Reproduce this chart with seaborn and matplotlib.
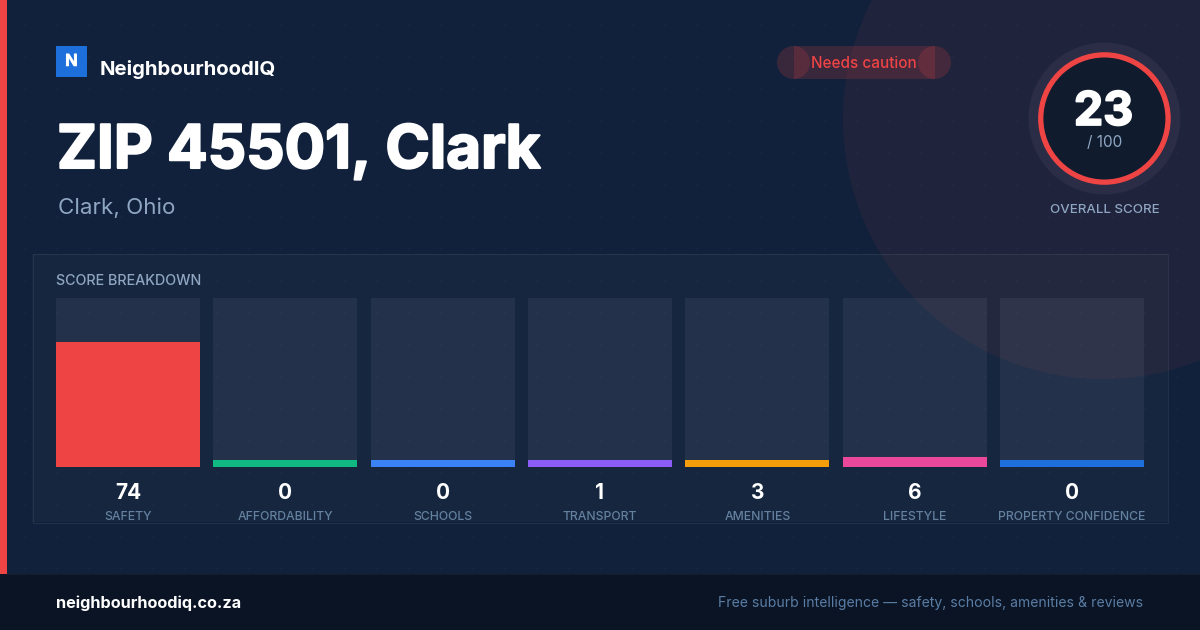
import numpy as np
import pandas as pd
import matplotlib
matplotlib.use("Agg")
import matplotlib.pyplot as plt
import matplotlib.patheffects as pe
from matplotlib.patches import Circle, Rectangle
import seaborn as sns

categories = ["SAFETY", "AFFORDABILITY", "SCHOOLS", "TRANSPORT", "AMENITIES", "LIFESTYLE", "PROPERTY CONFIDENCE"]
scores = [74, 0, 0, 1, 3, 6, 0]
bar_colors = ["#ef4444", "#10b981", "#3b82f6", "#8b5cf6", "#f59e0b", "#ec4899", "#1d6fdc"]
overall_score = 23
min_bar_height = 4  # the small scores are drawn with a stub

sns.set_theme(style="white")
plt.rcParams["font.family"] = ["Inter", "DejaVu Sans"]

WHITE = "#ffffff"
MUTED = "#8fa6c2"
LABEL = "#64819f"


def thicken(color, width):
    # the font has no extra-bold cut here, a thin outline gets close
    return [pe.withStroke(linewidth=width, foreground=color)]


fig = plt.figure(figsize=(12, 6.3), dpi=100, facecolor="#11213b")

# page background, in pixel coordinates
bg = fig.add_axes([0, 0, 1, 1])
bg.set_xlim(0, 1200)
bg.set_ylim(630, 0)
bg.axis("off")
bg.add_patch(Circle((1103, 119), 260, color="#ef4444", alpha=0.065, lw=0))
dots_x, dots_y = np.meshgrid(np.arange(24, 1200, 32), np.arange(24, 574, 32))
bg.scatter(dots_x.ravel(), dots_y.ravel(), s=2, color="#ffffff", alpha=0.03, lw=0)
bg.add_patch(Rectangle((32, 254), 1136, 268, facecolor="#ffffff", alpha=0.025, lw=0))
bg.add_patch(Rectangle((32.5, 254), 1135, 268.5, fill=False, edgecolor="#ffffff", alpha=0.07, lw=0.72))
bg.add_patch(Rectangle((0, 0), 7, 630, color="#ef4444", lw=0))
bg.add_patch(Rectangle((0, 574), 1200, 56, color="#0a1424", lw=0, zorder=3))
bg.add_patch(Rectangle((7, 574), 1193, 1, color="#ffffff", alpha=0.04, lw=0, zorder=3))

# logo and heading
bg.add_patch(Rectangle((56, 46), 31, 31, color="#1d6fdc", lw=0))
bg.text(71.5, 66, "N", color=WHITE, fontsize=12, fontweight="bold", ha="center", va="baseline",
        path_effects=thicken(WHITE, 0.4))
bg.text(100, 75, "NeighbourhoodIQ", color=WHITE, fontsize=14.65, fontweight="bold", va="baseline")
bg.text(57, 168, "ZIP 45501, Clark", color=WHITE, fontsize=43.3, fontweight="bold", va="baseline",
        path_effects=thicken(WHITE, 1.5))
bg.text(58, 214, "Clark, Ohio", color=MUTED, fontsize=16.1, va="baseline")

# status pill
bg.add_patch(Rectangle((793.5, 46), 141, 33, color="#ef4444", alpha=0.18, lw=0))
bg.add_patch(Circle((793.5, 62.5), 16.5, color="#ef4444", alpha=0.18, lw=0))
bg.add_patch(Circle((934.5, 62.5), 16.5, color="#ef4444", alpha=0.18, lw=0))
bg.text(863.5, 68, "Needs caution", color="#ef4444", fontsize=11, fontweight="medium", ha="center", va="baseline")

# overall score ring
bg.add_patch(Circle((1104.4, 118.5), 76, color="#2a2d45", lw=0))
bg.add_patch(Circle((1104.4, 118.5), 66.3, color="#ef4444", lw=0))
bg.add_patch(Circle((1104.4, 118.5), 61, color="#101c2e", lw=0))
bg.text(1103.5, 125, str(overall_score), color=WHITE, fontsize=33.5, fontweight="bold", ha="center",
        va="baseline", path_effects=thicken(WHITE, 1.3))
bg.text(1104.5, 147, "/ 100", color=MUTED, fontsize=11, ha="center", va="baseline")
bg.text(1104.5, 213, "OVERALL SCORE", color=MUTED, fontsize=9.6, fontweight="medium", ha="center", va="baseline")
bg.text(56, 285, "SCORE BREAKDOWN", color=MUTED, fontsize=10.3, fontweight="medium", va="baseline")

# bars: axes spans seven category slots, 0..100 maps to the track height
df = pd.DataFrame({"category": categories, "score": scores})
df["shown"] = np.maximum(df["score"], min_bar_height)
df["track"] = 100

ax = fig.add_axes([49.33 / 1200, (630 - 467) / 630, 1101.33 / 1200, 169 / 630])
ax.patch.set_alpha(0)
sns.barplot(data=df, x="category", y="track", color="#ffffff", alpha=0.06, width=0.915,
            saturation=1, linewidth=0, ax=ax)
sns.barplot(data=df, x="category", y="shown", hue="category", palette=bar_colors, width=0.915,
            saturation=1, legend=False, linewidth=0, ax=ax)
ax.set_xlim(-0.5, 6.5)
ax.set_ylim(0, 100)
ax.axis("off")

for i, row in df.iterrows():
    ax.annotate(str(row["score"]), (i, 0), xytext=(0, -32 * 0.72), textcoords="offset points",
                color=WHITE, fontsize=15, fontweight="bold", ha="center", va="baseline")
    ax.annotate(row["category"], (i, 0), xytext=(0, -53 * 0.72), textcoords="offset points",
                color=LABEL, fontsize=8.8, fontweight="medium", ha="center", va="baseline")

# footer
bg.text(56, 608, "neighbourhoodiq.co.za", color=WHITE, fontsize=11.7, fontweight="bold", va="baseline", zorder=4)
bg.text(1143, 607, "Free suburb intelligence \u2014 safety, schools, amenities & reviews", color="#5a7da5",
        fontsize=10.08, ha="right", va="baseline", zorder=4)

fig.savefig("out.png", dpi=100, facecolor=fig.get_facecolor())
